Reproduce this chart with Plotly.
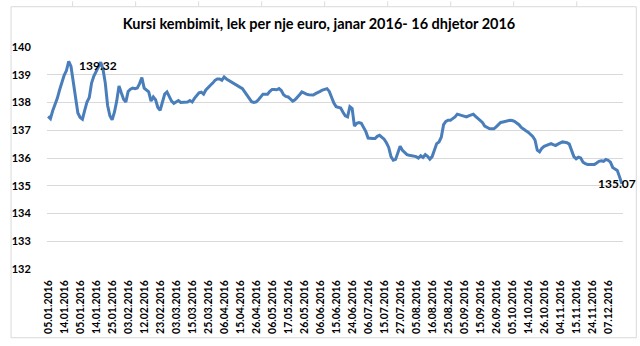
import plotly.graph_objects as go

# ---- data ----
values = [
    137.50, 137.42, 137.70, 137.92, 138.15, 138.45, 138.74, 138.98, 139.15, 139.48,
    139.30, 138.75, 138.12, 137.62, 137.46, 137.40, 137.72, 138.02, 138.18, 138.70,
    138.95, 139.12, 139.32, 139.45, 139.20, 138.70, 137.90, 137.52, 137.38, 137.65,
    138.05, 138.60, 138.35, 138.12, 138.02, 138.40, 138.48, 138.52, 138.50, 138.52,
    138.68, 138.90, 138.52, 138.46, 138.38, 138.05, 138.20, 138.10, 137.82, 137.72,
    138.00, 138.30, 138.38, 138.18, 138.05, 137.97, 138.02, 138.07, 138.00, 138.01,
    138.00, 138.02, 138.07, 138.02, 138.15, 138.27, 138.35, 138.37, 138.30, 138.45,
    138.52, 138.62, 138.70, 138.80, 138.85, 138.85, 138.80, 138.92, 138.85, 138.80,
    138.75, 138.70, 138.65, 138.58, 138.55, 138.50, 138.38, 138.27, 138.12, 138.03,
    138.00, 138.02, 138.10, 138.20, 138.30, 138.30, 138.30, 138.40, 138.47, 138.47,
    138.46, 138.50, 138.43, 138.28, 138.22, 138.20, 138.12, 138.05, 138.10, 138.18,
    138.28, 138.38, 138.33, 138.30, 138.28, 138.27, 138.27, 138.32, 138.35, 138.40,
    138.45, 138.48, 138.50, 138.40, 138.15, 137.98, 137.85, 137.82, 137.80, 137.65,
    137.52, 137.48, 137.85, 137.78, 137.15, 137.25, 137.28, 137.25, 137.10, 136.95,
    136.72, 136.70, 136.70, 136.70, 136.78, 136.82, 136.74, 136.68, 136.55, 136.38,
    136.05, 135.92, 135.95, 136.22, 136.42, 136.28, 136.20, 136.12, 136.10, 136.08,
    136.06, 136.05, 136.00, 136.08, 136.02, 136.12, 136.06, 135.96, 136.05, 136.25,
    136.52, 136.58, 136.75, 137.20, 137.32, 137.36, 137.36, 137.42, 137.48, 137.58,
    137.56, 137.54, 137.52, 137.48, 137.52, 137.55, 137.58, 137.50, 137.42, 137.35,
    137.28, 137.15, 137.10, 137.06, 137.05, 137.05, 137.12, 137.22, 137.28, 137.30,
    137.32, 137.33, 137.36, 137.35, 137.32, 137.26, 137.20, 137.10, 137.03, 136.98,
    136.93, 136.85, 136.78, 136.65, 136.28, 136.22, 136.35, 136.42, 136.45, 136.48,
    136.52, 136.48, 136.45, 136.50, 136.55, 136.58, 136.57, 136.55, 136.50, 136.30,
    136.05, 135.97, 136.03, 136.00, 135.85, 135.80, 135.77, 135.77, 135.77, 135.77,
    135.82, 135.88, 135.90, 135.88, 135.95, 135.92, 135.85, 135.66, 135.60, 135.55,
    135.32, 135.07,
]

tick_labels = [
    "05.01.2016", "14.01.2016", "05.01.2016", "14.01.2016", "25.01.2016", "03.02.2016",
    "12.02.2016", "23.02.2016", "03.03.2016", "15.03.2016", "25.03.2016", "06.04.2016",
    "15.04.2016", "26.04.2016", "06.05.2016", "17.05.2016", "26.05.2016", "06.06.2016",
    "15.06.2016", "24.06.2016", "06.07.2016", "15.07.2016", "27.07.2016", "05.08.2016",
    "16.08.2016", "25.08.2016", "05.09.2016", "15.09.2016", "26.09.2016", "05.10.2016",
    "14.10.2016", "26.10.2016", "04.11.2016", "15.11.2016", "24.11.2016", "07.12.2016",
]
label_step = 7
y_ticks = [132, 133, 134, 135, 136, 137, 138, 139, 140]

title = "Kursi kembimit, lek per nje euro, janar 2016- 16 dhjetor 2016"

# ---- figure ----
W, H = 640, 346
L, R = 38, 623
T, B = 46.5, 272.5

x_idx = list(range(len(values)))
tick_pos = [i * label_step for i in range(len(tick_labels))]

fig = go.Figure()
fig.add_trace(go.Scatter(
    x=x_idx, y=values, mode="lines",
    line=dict(color="#4A7EBB", width=3),
    hoverinfo="skip", showlegend=False,
))

font_family = "Lato, Open Sans, sans-serif"

def px2paper_x(px):
    return (px - L) / (R - L)

def px2paper_y(py):
    return (B - py) / (B - T)

shapes = [
    # chart border
    dict(type="rect", xref="paper", yref="paper",
         x0=px2paper_x(1.5), x1=px2paper_x(636.5),
         y0=px2paper_y(342.5), y1=px2paper_y(5.5),
         line=dict(color="#D9D9D9", width=1), fillcolor="rgba(0,0,0,0)", layer="below"),
]
for cx in [64, 128, 192, 256, 320, 384, 448, 512, 576]:
    shapes.append(dict(type="line", xref="paper", yref="paper",
                       x0=px2paper_x(cx), x1=px2paper_x(cx),
                       y0=px2paper_y(0), y1=px2paper_y(5),
                       line=dict(color="#DADCDD", width=1)))

# data labels (first and last highlighted values)
first_i = 22
last_i = len(values) - 1
annotations = [
    dict(x=first_i, y=values[first_i], xref="x", yref="y",
         text=f"{values[first_i]:.2f}", showarrow=False,
         xanchor="center", yanchor="middle",
         font=dict(family=font_family, size=12, color="#000000", weight="bold")),
    dict(x=last_i - 2.0, y=values[last_i], xref="x", yref="y",
         text=f"{values[last_i]:.2f}", showarrow=False,
         xanchor="center", yanchor="middle",
         font=dict(family=font_family, size=12, color="#000000", weight="bold")),
]

fig.update_layout(
    width=W, height=H,
    margin=dict(l=L, r=W - R, t=T, b=H - B, pad=0),
    paper_bgcolor="white", plot_bgcolor="white",
    title=dict(text=f"<b>{title}</b>", x=319 / W, xref="container", xanchor="center",
               y=1 - 24 / H, yanchor="middle",
               font=dict(family=font_family, size=14.5, color="#000000")),
    xaxis=dict(range=[-0.5, len(values) - 0.5], tickmode="array",
               tickvals=tick_pos, ticktext=tick_labels, tickangle=-90,
               showgrid=False, zeroline=False, showline=False,
               ticks="outside", ticklen=6, tickcolor="rgba(0,0,0,0)",
               tickfont=dict(family=font_family, size=10.5, color="#000000", weight="bold")),
    yaxis=dict(range=[132, 140], tickmode="array", tickvals=y_ticks,
               ticktext=[str(v) for v in y_ticks],
               showgrid=True, gridcolor="#D9D9D9", gridwidth=1,
               zeroline=False, showline=False,
               ticks="outside", ticklen=13, tickcolor="rgba(0,0,0,0)",
               tickfont=dict(family=font_family, size=11, color="#000000", weight="bold")),
    shapes=shapes, annotations=annotations,
)

fig.write_html("out.html")
